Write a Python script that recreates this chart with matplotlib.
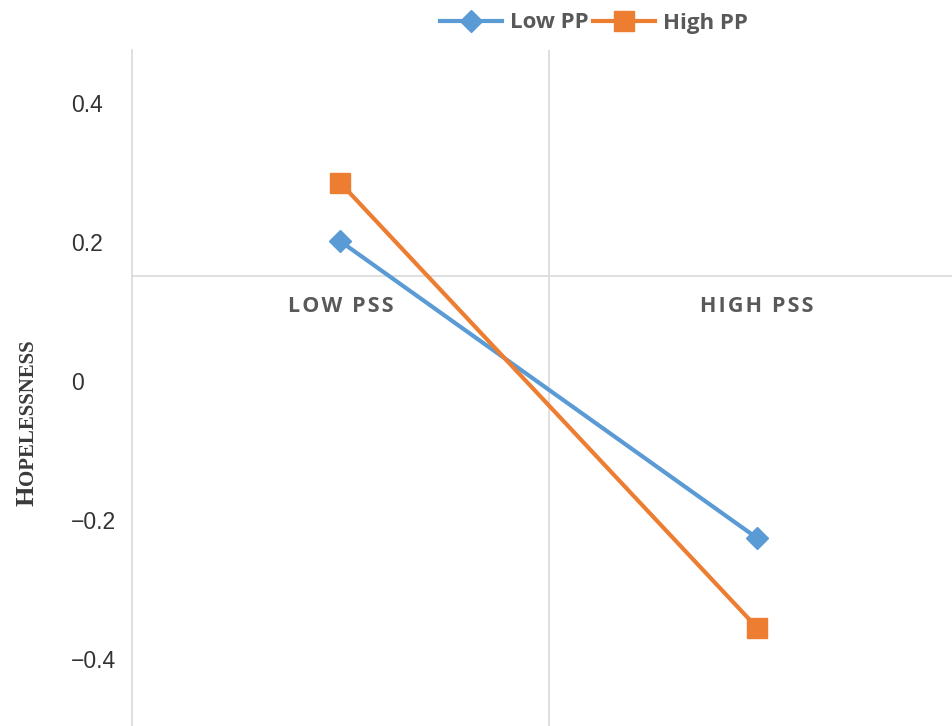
import matplotlib
matplotlib.use("Agg")
import matplotlib.pyplot as plt

categories = ["LOW PSS", "HIGH PSS"]
low_pp = [0.201, -0.226]
high_pp = [0.285, -0.355]
ytick_values = [0.4, 0.2, 0.0, -0.2, -0.4]
ytick_labels = ["0.4", "0.2", "0", "\u22120.2", "\u22120.4"]
axis_cross = 0.151

W, H = 952, 726
fig = plt.figure(figsize=(W / 100, H / 100), dpi=100)
ax = fig.add_axes([132 / W, 0, 1 - 132 / W, 1 - 50 / H])

x = list(range(len(categories)))
blue = "#5B9BD5"
orange = "#ED7D31"
ax.plot(x, low_pp, color=blue, lw=3, marker="D", ms=11, label="Low PP", zorder=3)
ax.plot(x, high_pp, color=orange, lw=3, marker="s", ms=14, label="High PP", zorder=4)

ax.set_xlim(-0.5, (952 - 340) / 417)
ax.set_ylim((381 - 726) / 695, (381 - 50) / 695)

grid = "#D9D9D9"
ax.axhline(axis_cross, color=grid, lw=1.2, zorder=1)
ax.axvline(0.5, color=grid, lw=1.2, zorder=1)
for s in ["top", "right", "bottom"]:
    ax.spines[s].set_visible(False)
ax.spines["left"].set_color(grid)
ax.spines["left"].set_linewidth(1.2)

ax.set_xticks([])
ax.set_yticks(ytick_values)
ax.set_yticklabels(ytick_labels, family="Liberation Sans", fontsize=16.5, color="#333333")
ax.tick_params(axis="y", length=0, pad=44)
for lab in ax.get_yticklabels():
    lab.set_horizontalalignment("left")

hs = "\u200a"
for xi, c in zip(x, categories):
    spaced = hs.join(list(c))
    ax.text(xi, (381 - 307) / 695, spaced, ha="center", va="center",
            fontsize=15.5, fontweight="bold", color="#595959",
            family=["Open Sans", "DejaVu Sans"])

leg = fig.legend(loc="center", bbox_to_anchor=(594 / W, 1 - 23 / H), ncol=2,
                 frameon=False, handlelength=2.8, handletextpad=0.35,
                 columnspacing=0.2, prop={"family": "Open Sans", "weight": "bold", "size": 16})
for t in leg.get_texts():
    t.set_color("#595959")

# small-caps y label
fig.canvas.draw()
r = fig.canvas.get_renderer()
base_x = 33 / W
t1 = fig.text(base_x, 1 - 506 / H, "H", rotation=90, rotation_mode="anchor",
              ha="left", va="baseline", family="Liberation Serif",
              fontweight="bold", fontsize=19, color="#3A3A3A")
bb = t1.get_window_extent(r)
t2 = fig.text(base_x, bb.y1 / H + 0.5 / H, "OPELESSNESS", rotation=90, rotation_mode="anchor",
              ha="left", va="baseline", family="Liberation Serif",
              fontweight="bold", fontsize=15, color="#3A3A3A")

fig.savefig("out.png", dpi=100)
